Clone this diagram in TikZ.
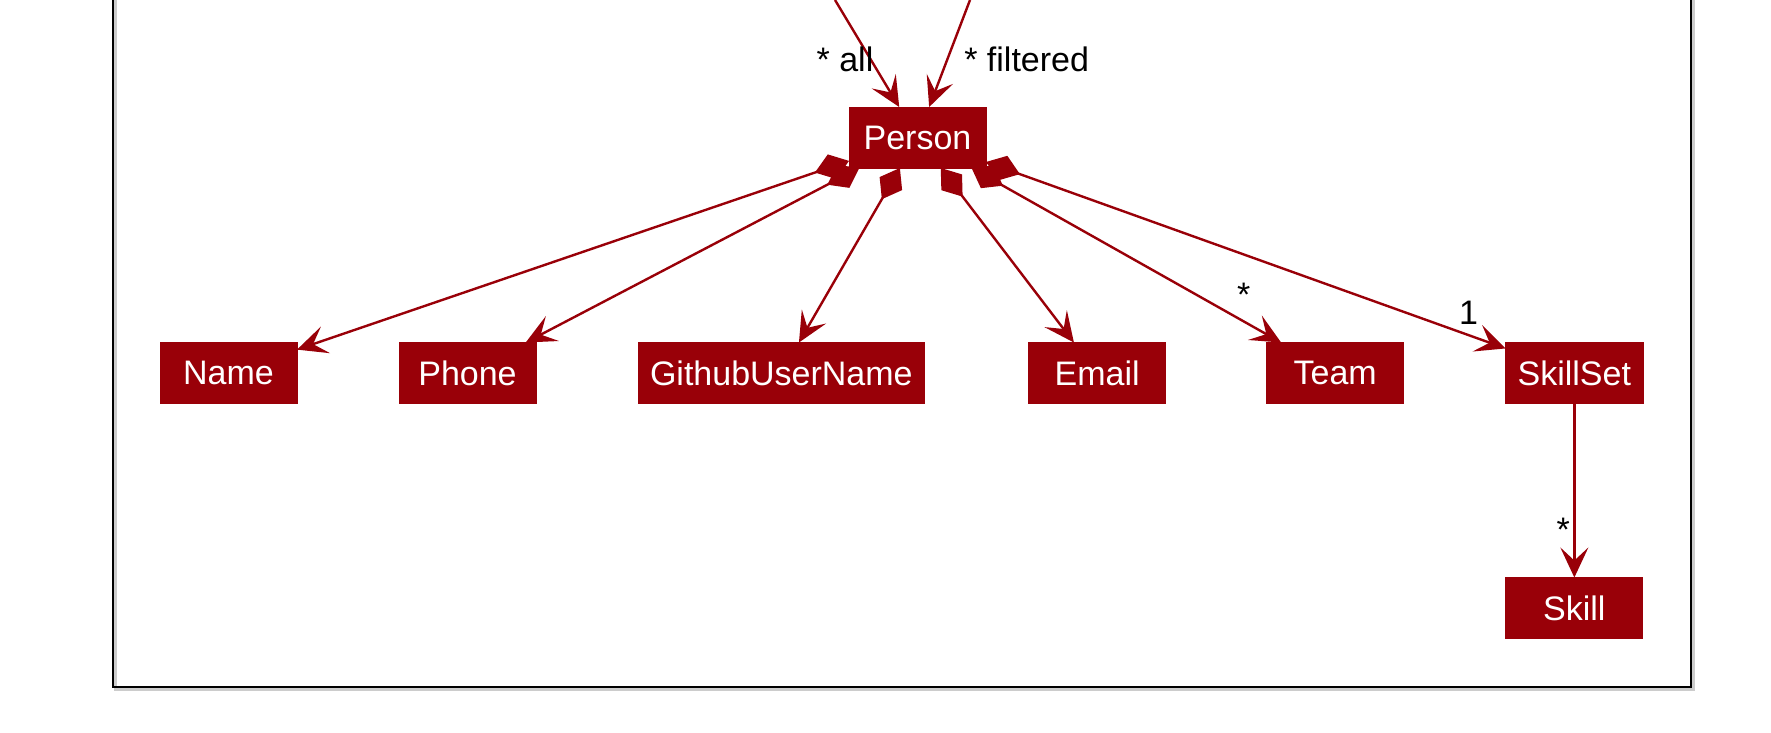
\documentclass[tikz,border=0pt]{standalone}
\usepackage{fontspec}
\setmainfont{Liberation Sans}
\usepackage{tikz}
\usetikzlibrary{arrows.meta,positioning,calc}
\definecolor{umlred}{RGB}{153,0,8}

\begin{document}
\begin{tikzpicture}[
  font=\fontsize{17}{20}\selectfont,
  box/.style={fill=umlred, draw=umlred, text=white, outer sep=0pt, inner xsep=6pt,
              minimum height=30.5pt, minimum width=68.5pt},
  comp/.style={{Diamond[length=18pt,width=13pt]}-{Stealth[length=15pt,width=14pt,inset=6.5pt]},
               umlred, line width=1.2pt},
  assoc/.style={-{Stealth[length=15pt,width=14pt,inset=6.5pt]}, umlred, line width=1.2pt},
  mult/.style={inner sep=0pt}
]
\useasboundingbox (0,0) rectangle (885.5pt,-366.5pt);
% package frame, its top edge lies outside the picture
\draw[gray!40, line width=1.2pt] (57.7pt,0) -- (57.7pt,-344.7pt) -- (846.7pt,-344.7pt) -- (846.7pt,0);
\draw[line width=1.2pt] (56.5pt,0) -- (56.5pt,-343.5pt) -- (845.5pt,-343.5pt) -- (845.5pt,0);

\node[box] (Person) at (458.75pt,-68.75pt) {Person};
\node[box] (Name) at (114.25pt,-186.5pt) {Name};
\node[box, right=51pt of Name] (Phone) {Phone};
\node[box, right=51pt of Phone] (GithubUserName) {GithubUserName};
\node[box, right=52pt of GithubUserName] (Email) {Email};
\node[box, right=50.5pt of Email] (Team) {Team};
\node[box, right=51pt of Team] (SkillSet) {SkillSet};
\node[box, below=87pt of SkillSet] (Skill) {Skill};

% the two lists come from above the frame
\coordinate (allsrc) at (417.5pt,0);
\coordinate (filtsrc) at (485pt,0);
\draw[assoc] (allsrc) -- (Person);
\draw[assoc] (filtsrc) -- (Person);
\node[mult] (alllab) at ([xshift=-36.25pt, yshift=23.75pt]Person.north) {* all};
\node[mult] (filtlab) at ([xshift=54.6pt, yshift=23.75pt]Person.north) {* filtered};

\foreach \t in {Name,Phone,GithubUserName,Email,Team,SkillSet}
  \draw[comp] (Person) -- (\t);
\draw[assoc] (SkillSet) -- (Skill);

\node[mult] (teamlab) at ([xshift=-11.5pt, yshift=24pt]Team.north west) {*};
\node[mult] (setlab) at ([xshift=-18.5pt, yshift=14.75pt]SkillSet.north west) {1};
\node[mult] (skilllab) at ([xshift=-5.5pt, yshift=24pt]Skill.north) {*};
\end{tikzpicture}
\end{document}
